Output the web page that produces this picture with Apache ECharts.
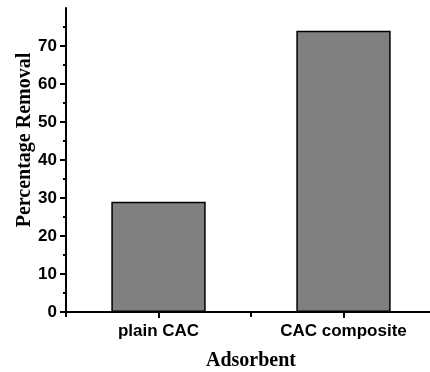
<!DOCTYPE html>
<html>

<head>
    <meta charset="utf-8">
    <title>Percentage Removal by Adsorbent</title>
    <script src="https://cdn.jsdelivr.net/npm/echarts@6/dist/echarts.min.js"></script>
</head>

<body style="margin:0;">
    <div id="main" style="width: 430px;height:372px;"></div>

    <script type="text/javascript">
        // data
        var categories = ['plain CAC', 'CAC composite'];
        var removal = [29, 74];
        var yTicks = [0, 10, 20, 30, 40, 50, 60, 70];

        var dom = document.getElementById("main");
        var myChart = echarts.init(dom);

        var labelFont = '"Liberation Sans", Arial, sans-serif';
        var titleFont = '"Liberation Serif", "Times New Roman", serif';

        var option = {
            animation: false,
            backgroundColor: '#fff',
            grid: {
                left: 66,
                top: 8,
                right: -6,
                bottom: 60,
                // keep the grid where it is, the axis runs off the right edge
                outerBoundsMode: 'none',
                containLabel: false
            },
            xAxis: [{
                    type: 'category',
                    data: categories,
                    position: 'bottom',
                    name: 'Adsorbent',
                    nameLocation: 'middle',
                    nameGap: 39,
                    nameMoveOverlap: false,
                    nameTextStyle: {
                        fontFamily: titleFont,
                        fontWeight: 'bold',
                        fontSize: 20,
                        color: '#000'
                    },
                    axisLine: {
                        lineStyle: { color: '#000', width: 2 }
                    },
                    // ticks under the bar centres
                    axisTick: {
                        show: true,
                        alignWithLabel: true,
                        length: 6,
                        lineStyle: { color: '#000', width: 2 }
                    },
                    axisLabel: {
                        margin: 11,
                        fontFamily: labelFont,
                        fontWeight: 'bold',
                        fontSize: 17,
                        color: '#000'
                    },
                    splitLine: { show: false }
                },
                {
                    // second axis only for the tick between categories
                    type: 'category',
                    data: categories,
                    position: 'bottom',
                    axisLine: { show: false },
                    axisTick: {
                        show: true,
                        length: 5,
                        lineStyle: { color: '#000', width: 2 }
                    },
                    axisLabel: { show: false },
                    splitLine: { show: false }
                }
            ],
            yAxis: {
                type: 'value',
                min: 0,
                max: 80,
                interval: 10,
                name: 'Percentage Removal',
                nameLocation: 'middle',
                nameGap: 31,
                nameRotate: 90,
                nameMoveOverlap: false,
                nameTextStyle: {
                    fontFamily: titleFont,
                    fontWeight: 'bold',
                    fontSize: 20,
                    color: '#000',
                    padding: [0, 0, 0, 40]
                },
                axisLine: {
                    show: true,
                    lineStyle: { color: '#000', width: 2 }
                },
                axisTick: {
                    show: true,
                    length: 6,
                    customValues: yTicks,
                    lineStyle: { color: '#000', width: 2 }
                },
                minorTick: {
                    show: true,
                    splitNumber: 2,
                    length: 3,
                    lineStyle: { color: '#000', width: 2 }
                },
                axisLabel: {
                    margin: 9,
                    customValues: yTicks,
                    fontFamily: labelFont,
                    fontWeight: 'bold',
                    fontSize: 17,
                    color: '#000'
                },
                splitLine: { show: false }
            },
            series: [{
                type: 'bar',
                xAxisIndex: 0,
                barWidth: '51%',
                data: removal,
                itemStyle: {
                    color: '#808080',
                    borderColor: '#000',
                    borderWidth: 1.5
                }
            }]
        };

        myChart.setOption(option);
    </script>
</body>

</html>
